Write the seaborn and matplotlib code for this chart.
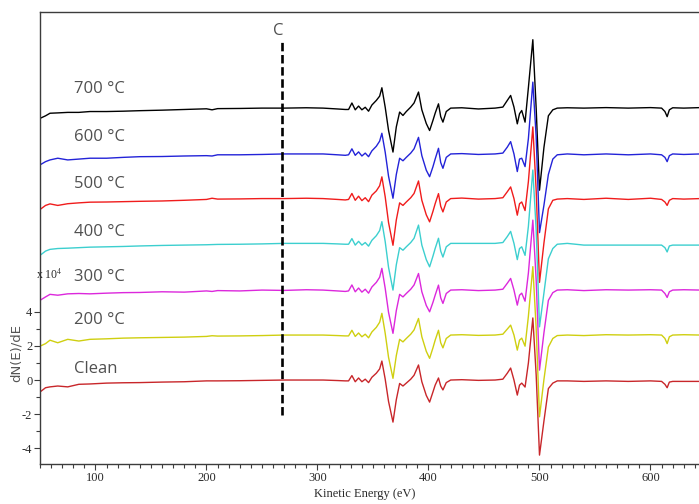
import numpy as np
import pandas as pd
import matplotlib
matplotlib.use("Agg")
import matplotlib.pyplot as plt
from matplotlib.ticker import MultipleLocator, FixedLocator
import seaborn as sns

# Kinetic energy grid (eV) shared by all spectra
energy = [50, 55, 59, 66, 75, 85, 95, 110, 125, 140,
          160, 180, 200, 205, 210, 230, 250, 270, 290, 305,
          318, 325, 328, 331, 334, 337, 340, 343, 346, 349,
          353, 356, 358, 361, 364, 368, 371, 374, 377, 380,
          384, 387, 391, 394, 398, 401, 404, 406, 409, 411,
          413, 416, 420, 430, 445, 460, 467, 471, 474, 477,
          480, 482, 484, 487, 490, 494, 497, 500, 504, 508,
          512, 516, 525, 540, 560, 580, 600, 610, 613, 615,
          617, 620, 630, 645]

# dN(E)/dE (x 1e4) of each spectrum, relative to its own baseline
s700 = [-0.60, -0.45, -0.30, -0.28, -0.25, -0.25, -0.20, -0.20, -0.18, -0.15,
        -0.12, -0.08, -0.04, -0.10, -0.03, -0.02, 0.00, 0.00, 0.02, 0.00,
        -0.05, -0.08, -0.08, 0.30, -0.10, 0.12, -0.10, 0.05, -0.18, 0.18,
        0.45, 0.70, 1.19, 0.05, -1.30, -2.57, -1.10, -0.23, -0.43, -0.20,
        0.06, 0.30, 0.94, -0.10, -0.90, -1.31, -0.72, -0.30, 0.25, -0.50,
        -0.82, -0.20, 0.00, 0.02, -0.05, 0.00, 0.06, 0.45, 0.74, 0.06,
        -0.92, -0.33, -0.14, -0.82, 1.20, 4.00, 0.00, -4.80, -2.30, -0.45,
        -0.10, 0.00, 0.02, 0.00, 0.03, 0.00, 0.03, 0.00, -0.20, -0.50,
        -0.10, 0.02, 0.00, 0.03]
s600 = [-0.64, -0.45, -0.35, -0.25, -0.35, -0.30, -0.25, -0.25, -0.20, -0.16,
        -0.15, -0.12, -0.10, -0.12, -0.05, -0.05, -0.03, 0.00, 0.00, 0.00,
        -0.05, -0.08, -0.05, 0.30, -0.08, 0.12, -0.12, 0.05, -0.16, 0.18,
        0.45, 0.75, 1.21, 0.10, -1.30, -2.59, -1.20, -0.25, -0.40, -0.20,
        0.05, 0.30, 0.97, -0.10, -0.95, -1.33, -0.75, -0.30, 0.33, -0.50,
        -0.84, -0.20, 0.00, 0.02, -0.03, 0.00, 0.05, 0.40, 0.72, 0.00,
        -1.03, -0.30, -0.25, -0.74, 0.90, 4.20, 1.00, -4.60, -3.00, -1.20,
        -0.30, -0.05, 0.00, -0.05, 0.00, -0.05, 0.00, -0.05, -0.20, -0.45,
        -0.10, 0.00, -0.03, 0.00]
s500 = [-0.64, -0.40, -0.31, -0.40, -0.30, -0.25, -0.21, -0.20, -0.18, -0.16,
        -0.14, -0.10, -0.05, 0.02, -0.03, -0.02, 0.00, 0.00, 0.02, 0.00,
        -0.05, -0.08, -0.05, 0.30, -0.10, 0.14, -0.12, 0.05, -0.18, 0.20,
        0.45, 0.75, 1.27, 0.10, -1.40, -2.73, -1.25, -0.25, -0.40, -0.20,
        0.05, 0.30, 1.03, -0.10, -0.95, -1.36, -0.75, -0.30, 0.29, -0.45,
        -0.78, -0.20, 0.00, 0.03, -0.03, 0.00, 0.05, 0.40, 0.68, 0.00,
        -0.97, -0.30, -0.20, -0.70, 1.00, 4.19, 0.50, -4.90, -2.60, -0.60,
        -0.10, -0.03, 0.00, -0.05, 0.02, -0.05, 0.02, -0.05, -0.20, -0.40,
        -0.10, 0.00, -0.03, 0.00]
s400 = [-0.70, -0.45, -0.35, -0.30, -0.28, -0.25, -0.22, -0.20, -0.18, -0.15,
        -0.12, -0.10, -0.08, -0.07, -0.06, -0.05, -0.03, 0.00, 0.00, 0.00,
        -0.03, -0.05, -0.05, 0.28, -0.10, 0.12, -0.10, 0.05, -0.16, 0.18,
        0.45, 0.75, 1.27, 0.10, -1.40, -2.73, -1.25, -0.25, -0.40, -0.20,
        0.05, 0.30, 1.07, -0.10, -0.95, -1.37, -0.75, -0.30, 0.30, -0.45,
        -0.80, -0.20, 0.00, 0.00, 0.00, 0.00, 0.05, 0.40, 0.70, 0.00,
        -0.95, -0.30, -0.20, -0.70, 1.00, 4.29, 0.80, -4.88, -2.90, -0.90,
        -0.30, -0.05, 0.00, -0.10, -0.10, -0.10, -0.10, -0.10, -0.25, -0.50,
        -0.15, -0.10, -0.10, -0.10]
s300 = [-0.60, -0.40, -0.25, -0.30, -0.22, -0.20, -0.22, -0.18, -0.15, -0.14,
        -0.10, -0.12, -0.05, -0.08, -0.03, -0.05, 0.00, -0.02, 0.02, 0.00,
        -0.05, -0.08, -0.05, 0.30, -0.10, 0.12, -0.12, 0.05, -0.18, 0.18,
        0.45, 0.75, 1.27, 0.10, -1.30, -2.53, -1.20, -0.25, -0.40, -0.20,
        0.05, 0.30, 0.97, -0.10, -0.90, -1.27, -0.72, -0.30, 0.29, -0.45,
        -0.78, -0.20, 0.00, 0.02, -0.03, 0.00, 0.05, 0.40, 0.68, 0.00,
        -0.88, -0.30, -0.18, -0.65, 1.00, 4.09, 0.60, -4.68, -2.50, -0.60,
        -0.15, 0.00, 0.02, -0.03, 0.02, 0.00, 0.02, 0.00, -0.20, -0.43,
        -0.10, 0.00, 0.02, 0.00]
s200 = [-0.65, -0.50, -0.30, -0.45, -0.25, -0.35, -0.25, -0.22, -0.18, -0.16,
        -0.14, -0.12, -0.08, -0.04, -0.06, -0.05, -0.03, 0.00, 0.00, 0.00,
        -0.03, -0.05, -0.05, 0.28, -0.08, 0.12, -0.10, 0.05, -0.16, 0.18,
        0.45, 0.75, 1.27, 0.10, -1.30, -2.53, -1.20, -0.25, -0.40, -0.20,
        0.05, 0.30, 0.97, -0.10, -0.95, -1.36, -0.75, -0.30, 0.28, -0.45,
        -0.75, -0.20, 0.00, 0.02, -0.02, 0.00, 0.05, 0.35, 0.58, 0.00,
        -0.88, -0.30, -0.18, -0.65, 1.10, 4.00, 0.40, -4.78, -2.60, -0.70,
        -0.20, -0.03, 0.00, -0.03, 0.02, 0.00, 0.02, 0.00, -0.20, -0.50,
        -0.10, 0.00, 0.02, 0.00]
s_clean = [-0.70, -0.45, -0.40, -0.35, -0.40, -0.25, -0.23, -0.18, -0.16, -0.15,
           -0.12, -0.10, -0.05, -0.05, -0.05, -0.04, -0.02, 0.00, 0.00, 0.00,
           -0.03, -0.05, -0.05, 0.26, -0.10, 0.12, -0.10, 0.05, -0.15, 0.16,
           0.40, 0.65, 1.11, 0.05, -1.25, -2.46, -1.15, -0.20, -0.35, -0.18,
           0.05, 0.28, 0.88, -0.10, -0.90, -1.29, -0.70, -0.30, 0.12, -0.35,
           -0.58, -0.15, 0.00, 0.02, -0.02, 0.00, 0.05, 0.40, 0.70, 0.00,
           -0.88, -0.30, -0.18, -0.41, 1.00, 3.63, 0.30, -4.39, -2.40, -0.50,
           -0.18, -0.05, -0.05, -0.08, -0.05, -0.08, -0.05, -0.08, -0.25, -0.45,
           -0.12, -0.08, -0.08, -0.08]

samples = ["700 \u00b0C", "600 \u00b0C", "500 \u00b0C", "400 \u00b0C",
           "300 \u00b0C", "200 \u00b0C", "Clean"]
spectra = [s700, s600, s500, s400, s300, s200, s_clean]
offsets = [15.90, 13.22, 10.61, 7.99, 5.26, 2.63, 0.0]
colors = ["#000000", "#2323d8", "#f01c1c", "#3ccfcf", "#dc28dc", "#cfcf10", "#c8262a"]
label_y = [17.02, 14.21, 11.46, 8.65, 6.02, 3.51, 0.64]

carbon_ev = 268

rows = []
for name, vals, off in zip(samples, spectra, offsets):
    for e, v in zip(energy, vals):
        rows.append({"energy": e, "signal": v + off, "sample": name})
df = pd.DataFrame(rows)

sns.set_theme(style="white")
plt.rcParams["font.family"] = ["DejaVu Sans"]
plt.rcParams["mathtext.fontset"] = "stix"
plt.rcParams["axes.unicode_minus"] = False

W, H = 699, 504
fig = plt.figure(figsize=(W / 100, H / 100), dpi=100)
ax = fig.add_axes([40 / W, 1 - 464 / H, 659 / W, 452 / H])

sns.lineplot(data=df, x="energy", y="signal", hue="sample", hue_order=samples,
             palette=colors, sort=False, estimator=None, legend=False,
             linewidth=1.0, ax=ax)

ax.set_xlim(50, 643.7)
ax.set_ylim(-4.91, 21.52)

spine_c = "#3c3c3c"
for side in ["left", "top", "bottom"]:
    ax.spines[side].set_color(spine_c)
    ax.spines[side].set_linewidth(1.0)
ax.spines["right"].set_visible(False)

ax.xaxis.set_major_locator(MultipleLocator(100))
ax.xaxis.set_minor_locator(MultipleLocator(10))
ax.yaxis.set_major_locator(FixedLocator([-4, -2, 0, 2, 4]))
ax.yaxis.set_minor_locator(FixedLocator([-3, -1, 1, 3]))
ax.tick_params(axis="both", which="both", direction="out", color=spine_c,
               width=0.8, left=True, bottom=True, top=False, right=False)
ax.tick_params(axis="both", which="major", length=4, pad=1.5)
ax.tick_params(axis="both", which="minor", length=3)
for lab in ax.get_xticklabels() + ax.get_yticklabels():
    lab.set_family("Liberation Serif")
    lab.set_fontsize(9)
    lab.set_color("#2a2a2a")

ax.set_xlabel("Kinetic Energy (eV)", family="Liberation Serif", fontsize=9,
              color="#2a2a2a")
ax.xaxis.set_label_coords(0.493, -0.052)
ax.set_ylabel("dN(E)/dE", family="DejaVu Sans", fontsize=9.5, color="#555555")
ax.yaxis.set_label_coords(-0.026, 0.246)

ax.text(-0.006, 6.14, r"x 10$^{4}$", transform=ax.get_yaxis_transform(),
        family="Liberation Serif", fontsize=8.5, color="#2a2a2a",
        ha="left", va="center")

# carbon KLL position
ax.vlines(carbon_ev, -2.05, 19.77, colors="black", linewidth=1.9,
          linestyles=(0, (3.2, 1.4)))
ax.text(carbon_ev - 3, 20.4, "C", fontsize=12, color="#505050",
        ha="center", va="center", family="Open Sans")

for name, y in zip(samples, label_y):
    ax.text(81, y, name, fontsize=12, color="#505050", ha="left",
            va="center", family="Open Sans")

fig.savefig("out.png", dpi=100)
